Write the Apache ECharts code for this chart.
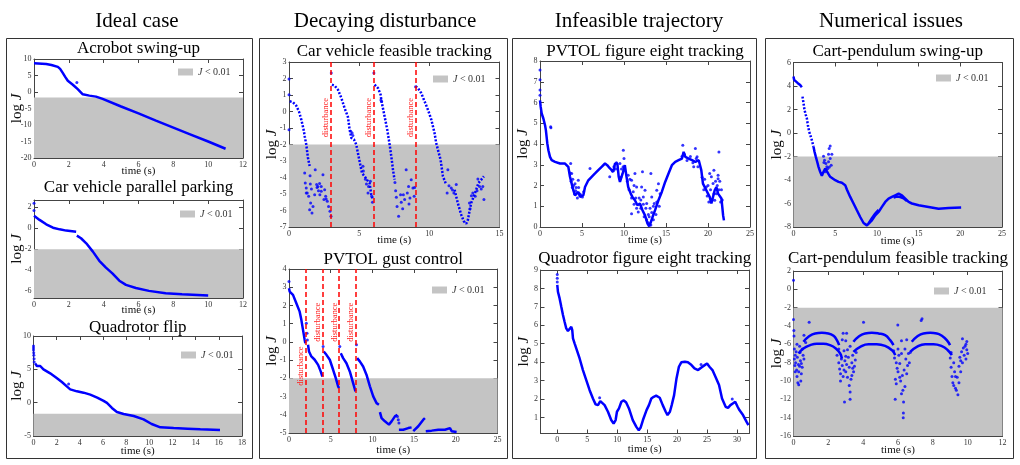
<!DOCTYPE html>
<html>
<head>
<meta charset="utf-8">
<script src="https://cdn.jsdelivr.net/npm/echarts@6/dist/echarts.min.js"></script>
<style>
  html, body { margin: 0; padding: 0; background: #fff; }
  #chart { width: 1020px; height: 465px; }
</style>
</head>
<body>
<div id="chart"></div>
<script>
// ---- data: [time (s), log J] ----
const columnTitles = ['Ideal case', 'Decaying disturbance', 'Infeasible trajectory', 'Numerical issues']

// Acrobot swing-up
const acrobotTimeTicks = [0, 2, 4, 6, 8, 10, 12]
const acrobotLogTicks = [-20, -15, -10, -5, 0, 5, 10]
const acrobotThreshold = -1.7
const acrobotCurve = [[0, 8.7], [0.7, 8.5], [1.0, 8.2], [1.37, 7.6], [1.5, 7.0], [1.66, 5.7], [1.8, 4.5], [1.94, 3.4],
  [2.23, 2.2], [2.51, 0.85], [2.8, -0.7], [3.18, -1.1], [3.56, -1.4], [3.94, -2.1], [5, -4.4], [6, -6.5],
  [7, -8.7], [8, -10.8], [9, -12.9], [10, -15.0], [11, -17.2]]
const acrobotDots = [[2.46, 2.9]]

// Car vehicle parallel parking
const parkingTimeTicks = [0, 2, 4, 6, 8, 10, 12]
const parkingLogTicks = [-6, -4, -2, 0, 2]
const parkingThreshold = -2
const parkingCurveA = [[0, 1.2], [0.32, 0.8], [0.7, 0.38], [1.09, 0.06], [1.47, -0.1], [1.85, -0.22], [2.42, -0.32]]
const parkingCurveB = [[2.46, -0.7], [2.7, -0.95], [3.0, -1.43], [3.37, -2.2], [3.75, -3.1], [4.13, -3.75], [4.5, -4.3],
  [4.9, -5.0], [5.28, -5.4], [5.85, -5.7], [6.6, -5.97], [7.56, -6.2], [8.5, -6.29], [10, -6.4]]
const parkingDots = [[0, 2.4], [0, 1.7]]

// Quadrotor flip
const flipTimeTicks = [0, 2, 4, 6, 8, 10, 12, 14, 16, 18]
const flipLogTicks = [-5, 0, 5, 10]
const flipThreshold = -1.65
const flipCurve = [[0.14, 5.9], [0.29, 5.5], [0.58, 5.5], [0.86, 5.0], [1.44, 4.4], [2.0, 3.7], [2.45, 3.1], [2.9, 2.4],
  [3.17, 2.0], [3.75, 1.7], [4.32, 1.5], [4.9, 1.2], [5.5, 0.77], [6.05, 0.27], [6.34, -0.04], [6.77, -0.79],
  [7.2, -1.4], [7.78, -1.7], [8.65, -2.0], [9.5, -2.5], [10.2, -3.2], [10.95, -3.7], [12.1, -3.8], [13.3, -3.9],
  [14.4, -4.0], [16.1, -4.1]]
const flipDots = [[0, 8.5], [0, 8.2], [0, 7.9], [0.02, 7.5], [0.03, 7.1], [0.05, 6.6], [0.06, 6.1], [3.03, 2.8]]

// Car vehicle feasible tracking
const carTimeTicks = [0, 5, 10, 15]
const carLogTicks = [-7, -6, -5, -4, -3, -2, -1, 0, 1, 2, 3]
const carThreshold = -2
const carDisturbances = [3, 6.05, 9]
const carDisturbLabelY = -0.37
const carTrack1 = [[0.05, 0.62], [0.28, 0.56], [0.52, 0.35], [0.71, 0.0], [0.88, -0.5], [1.04, -1.1], [1.12, -1.5],
  [1.23, -2.0], [1.35, -2.8], [1.47, -3.3]]
const carTrack2 = [[3.06, 1.63], [3.25, 1.57], [3.49, 1.32], [3.73, 0.82], [3.96, 0.21], [4.2, -0.33], [4.32, -1.1],
  [4.44, -1.6], [4.63, -1.7], [4.79, -2.0], [4.96, -2.72], [5.1, -3.32], [5.2, -3.73], [5.39, -3.93], [5.58, -4.17],
  [5.74, -4.33], [5.86, -5.04], [5.98, -5.34]]
const carTrack3 = [[6.1, 1.63], [6.34, 1.42], [6.53, 1.02], [6.58, 0.68], [6.81, -0.29], [7.0, -1.1], [7.17, -2.0],
  [7.29, -2.72], [7.41, -3.53], [7.52, -4.13]]
const carTrack4 = [[9.02, 1.53], [9.19, 1.42], [9.42, 1.12], [9.66, 0.62], [9.9, 0.11], [10.14, -0.49], [10.37, -1.3],
  [10.49, -1.91], [10.61, -2.31], [10.8, -2.92], [10.97, -3.93], [11.2, -4.43]]
const carTrack5 = [[11.8, -4.74], [12.03, -5.55], [12.27, -6.25], [12.46, -6.66], [12.63, -6.8], [12.75, -6.56],
  [12.86, -6.05], [12.98, -5.55], [13.17, -5.14], [13.34, -4.74], [13.5, -4.33], [13.7, -4.13], [13.89, -3.93]]
const carTrackDots = [[0, 1.97], [0, 1.02], [0, -1.1], [1.12, -3.73], [1.16, -4.33], [1.23, -4.64], [1.3, -4.94],
  [1.4, -5.14], [1.54, -5.55], [1.64, -6.15], [1.71, -5.75], [1.83, -5.04], [1.87, -3.53], [1.97, -4.43], [2.06, -4.54],
  [2.18, -4.37], [2.3, -4.54], [2.42, -3.83], [2.54, -4.74], [2.61, -5.14], [2.73, -5.44], [2.82, -5.75], [2.92, -6.05],
  [2.99, -6.35], [2.3, -4.84], [2.49, -5.34], [2.2, -5.04], [1.47, -5.95], [1.23, -4.94], [1.5, -3.9], [1.6, -4.7],
  [2.0, -4.6], [2.1, -4.8], [2.65, -5.3], [1.52, -4.4],
  [3.01, 2.33], [5.27, -3.32], [5.63, -4.94], [5.8, -4.23], [5.9, -5.14], [5.67, -4.54], [5.45, -4.1], [5.52, -4.4],
  [5.95, -5.5], [5.3, -3.6], [4.5, -1.3], [4.55, -1.45], [4.4, -1.2],
  [6.05, 2.33], [7.7, -5.75], [7.81, -6.35], [7.95, -5.04], [8.35, -3.53], [8.43, -4.94], [8.52, -4.54], [8.62, -5.24],
  [8.71, -4.13], [8.83, -4.64], [8.92, -5.14], [8.24, -5.34], [7.6, -4.8], [7.65, -5.2], [8.0, -5.5], [8.1, -5.9],
  [8.55, -5.6], [8.95, -4.6], [8.15, -5.05], [7.55, -4.3], [6.55, 0.7], [6.6, 0.6],
  [9.02, 1.5], [11.32, -3.53], [11.27, -4.94], [11.56, -4.64], [11.75, -4.94], [11.92, -4.43], [12.86, -5.55],
  [13.1, -4.94], [13.27, -5.14], [13.58, -4.54], [13.81, -4.54], [13.89, -5.34], [13.46, -4.09], [11.4, -4.5],
  [11.65, -4.75], [13.0, -5.1], [13.4, -4.8], [13.7, -4.7], [12.9, -5.9]]

// PVTOL gust control
const gustTimeTicks = [0, 5, 10, 15, 20, 25]
const gustLogTicks = [-5, -4, -3, -2, -1, 0, 1, 2, 3, 4]
const gustThreshold = -2
const gustDisturbances = [2, 4, 6, 8]
const gustDisturbLabelY = [-1.33, 1.08, 1.08, 1.08]
const gustSeg1 = [[0, 2.94], [0.08, 2.76], [0.48, 2.58], [0.88, 2.12], [1.28, 1.66], [1.48, 1.21], [1.68, 0.66], [1.88, 0.11], [1.96, -0.07]]
const gustSeg2 = [[2.28, -0.16], [2.4, -0.53], [2.68, -0.8], [3.08, -0.98], [3.49, -1.26], [3.8, -1.62], [4.0, -1.9]]
const gustSeg3 = [[4.17, -0.53], [4.49, -0.71], [4.89, -0.98], [5.29, -1.53], [5.61, -1.99], [5.89, -2.44], [6.0, -2.54]]
const gustSeg4 = [[6.21, -0.62], [6.49, -0.89], [6.89, -1.17], [7.29, -1.62], [7.69, -2.26], [7.97, -2.72]]
const gustSeg5 = [[8.17, -0.89], [8.49, -1.07], [8.89, -1.35], [9.29, -1.8], [9.7, -2.44], [10.1, -2.99], [10.5, -3.36], [10.78, -3.45]]
const gustSeg6 = [[10.9, -3.85], [11.1, -4.18], [11.5, -4.36], [11.98, -4.54], [12.3, -4.36], [12.7, -4.09], [13.0, -4.0]]
const gustSeg7 = [[13.18, -4.82], [13.7, -4.82], [14.3, -4.73], [14.7, -4.69]]
const gustSeg8 = [[14.9, -4.9], [15.5, -4.63], [16.1, -4.27], [16.3, -4.18]]
const gustSeg9 = [[16.4, -4.9], [17.1, -4.87], [17.9, -4.82], [18.7, -4.82], [19.3, -4.73], [19.5, -4.9], [20.1, -4.94]]
const gustDots = [[0, 3.31], [2.08, 1.02], [2.16, 0.48], [2.2, 0.11], [4.09, -0.25], [6.09, -0.25], [8.09, -0.16],
  [13.1, -4.27], [13.18, -4.45], [13.0, -4.1]]

// PVTOL figure eight tracking
const pvtolTimeTicks = [0, 5, 10, 15, 20, 25]
const pvtolLogTicks = [0, 1, 2, 3, 4, 5, 6, 7, 8]
const pvtolCurve = [[0, 6.1], [0.08, 5.8], [0.2, 5.47], [0.4, 5.23], [0.6, 4.9], [0.7, 4.67], [0.87, 4.03], [1.0, 3.7],
  [1.19, 3.38], [1.39, 3.22], [1.79, 3.14], [2.38, 3.06], [2.98, 3.06], [3.37, 2.9], [3.57, 2.42], [3.77, 2.09],
  [3.97, 1.77], [4.17, 1.53], [4.37, 1.53], [4.56, 1.69], [4.76, 1.45], [4.96, 1.37], [5.16, 1.53], [5.36, 1.93],
  [5.75, 2.25], [6.15, 2.42], [6.55, 2.58], [6.94, 2.74], [7.34, 2.9], [7.74, 3.06], [8.0, 2.98], [8.33, 2.82],
  [8.73, 2.66], [8.93, 3.06], [9.21, 3.06], [9.37, 2.42], [9.52, 2.17], [9.84, 2.58], [10.1, 2.98], [10.3, 2.42],
  [10.5, 1.93], [10.8, 1.61], [11.0, 1.45], [11.3, 1.29], [11.6, 1.05], [11.9, 1.13], [12.2, 0.81], [12.5, 0.56],
  [12.8, 0.16], [13.0, 0.03], [13.2, 0.24], [13.4, 0.48], [13.7, 0.81], [14.1, 1.29], [14.5, 1.69], [14.9, 2.17],
  [15.3, 2.58], [15.7, 2.98], [16.1, 3.14], [16.5, 3.22], [16.9, 3.3], [17.1, 3.62], [17.3, 3.38], [17.7, 3.3],
  [18.1, 3.22], [18.5, 3.14], [18.9, 3.22], [19.2, 2.74], [19.4, 2.09], [19.8, 1.77], [20.0, 1.61], [20.2, 1.45],
  [20.4, 1.13], [20.6, 1.45], [20.8, 1.77], [21.0, 1.93], [21.2, 1.61], [21.4, 1.53], [21.6, 1.37], [21.7, 0.97],
  [21.8, 0.56], [21.9, 0.32]]
const pvtolDots = [[0, 7.57], [0, 7.1], [0, 6.6], [0, 6.35], [1.27, 4.83], [1.3, 4.78], [3.65, 3.06], [3.77, 2.58],
  [4.17, 2.09], [4.56, 2.25], [5.95, 2.82], [9.92, 3.7], [9.52, 3.06], [10.5, 2.5], [10.9, 2.25], [11.3, 2.58],
  [11.5, 1.93], [12.1, 1.93], [12.2, 2.66], [12.3, 1.45], [12.5, 1.77], [12.7, 1.13], [13.2, 2.58], [13.3, 1.45],
  [13.6, 1.13], [13.9, 1.77], [14.1, 2.09], [10.9, 0.64], [11.7, 0.72], [17.0, 3.94], [18.5, 3.78], [18.3, 2.9],
  [18.7, 3.38], [20.2, 2.58], [20.4, 2.42], [20.7, 2.74], [21.2, 2.33], [21.3, 3.62], [21.2, 2.5], [20.8, 1.29],
  [19.8, 1.93], [8.3, 2.42], [9.9, 2.9], [11.2, 2.0], [3.9, 2.3], [4.3, 1.9], [12.0, 1.3], [12.9, 0.6], [13.1, 0.9],
  [3.6, 2.6], [3.7, 2.2], [3.85, 1.9], [4.0, 2.0], [4.1, 1.6], [4.25, 1.75], [4.45, 1.4], [4.6, 1.9], [4.7, 1.6],
  [4.85, 1.55], [5.05, 1.45], [5.2, 1.7], [9.6, 2.4], [9.7, 2.8], [10.0, 3.3], [10.4, 2.2], [10.6, 1.8], [10.7, 2.3],
  [10.9, 1.4], [11.1, 1.7], [11.2, 1.1], [11.4, 1.4], [11.5, 0.9], [11.8, 1.4], [12.0, 0.9], [12.3, 1.1], [12.4, 0.5],
  [12.6, 0.9], [12.7, 0.35], [12.9, 0.2], [13.0, 0.5], [13.2, 0.1], [13.3, 0.7], [13.5, 0.35], [13.5, 1.0], [13.8, 0.6],
  [13.9, 1.2], [14.2, 1.0], [14.3, 1.6], [19.3, 2.4], [19.5, 1.8], [19.6, 2.3], [19.9, 1.5], [20.0, 2.0], [20.1, 1.2],
  [20.3, 1.8], [20.5, 1.3], [20.6, 2.1], [20.7, 1.6], [20.9, 2.2], [21.0, 1.6], [21.1, 2.0], [21.3, 1.8], [21.4, 2.2],
  [21.5, 1.2], [21.6, 1.8], [21.7, 1.3], [16.9, 3.4], [17.2, 3.5], [17.5, 3.2], [17.9, 3.4], [18.2, 3.1], [18.6, 3.3],
  [18.8, 2.9], [8.6, 2.7], [8.8, 2.9], [9.0, 2.8], [9.1, 3.1]]

// Quadrotor figure eight tracking
const quadTimeTicks = [0, 5, 10, 15, 20, 25, 30]
const quadLogTicks = [1, 2, 3, 4, 5, 6, 7, 8, 9]
const quadCurve = [[0, 8.19], [0.11, 7.82], [0.39, 7.46], [0.67, 7.0], [0.95, 6.56], [1.22, 6.19], [1.5, 5.83],
  [1.78, 5.69], [2.06, 5.74], [2.34, 5.92], [2.5, 5.74], [2.62, 5.29], [2.89, 5.02], [3.17, 4.75], [3.73, 4.2],
  [4.28, 3.57], [4.84, 3.03], [5.4, 2.48], [5.95, 2.03], [6.4, 1.71], [6.79, 1.67], [7.18, 1.89], [7.51, 1.85],
  [7.9, 1.67], [8.46, 1.31], [9.0, 0.86], [9.4, 0.67], [9.74, 0.86], [9.96, 1.31], [10.3, 1.49], [10.7, 1.85],
  [11.1, 1.93], [11.5, 1.81], [11.96, 1.49], [12.6, 0.86], [13.2, 0.49], [13.6, 0.31], [13.9, 0.44], [14.3, 0.86],
  [14.9, 1.4], [15.3, 1.67], [15.7, 2.03], [16.1, 2.12], [16.5, 2.18], [17.1, 2.07], [17.6, 1.67], [18.1, 1.31],
  [18.4, 1.13], [18.8, 1.31], [19.1, 1.67], [19.5, 2.21], [19.9, 3.12], [20.3, 3.75], [20.7, 3.99], [21.3, 4.02],
  [21.8, 3.99], [22.4, 3.84], [22.9, 3.66], [23.5, 3.57], [24.0, 3.7], [24.6, 3.84], [25.0, 3.93], [25.4, 3.75],
  [25.9, 3.57], [26.4, 3.21], [27.0, 2.76], [27.5, 2.03], [28.1, 1.58], [28.5, 1.52], [28.9, 1.67], [29.3, 1.76],
  [29.7, 1.85], [30.1, 1.58], [30.4, 1.4], [31.0, 1.13], [31.6, 0.76], [31.9, 0.58]]
const quadDots = [[0, 8.76], [0, 8.55], [0, 8.35], [7.07, 2.07], [24.0, 3.88], [29.2, 2.0]]

// Cart-pendulum swing-up
const swingTimeTicks = [0, 5, 10, 15, 20, 25]
const swingLogTicks = [-8, -6, -4, -2, 0, 2, 4, 6]
const swingThreshold = -2
const swingStart = [[0, 4.8], [0.08, 4.52], [0.2, 4.38], [0.52, 4.24], [0.8, 4.09], [1.0, 3.9]]
const swingFall = [[1.08, 3.1], [1.2, 2.53], [1.32, 1.96], [1.48, 1.53], [1.6, 1.25], [1.72, 0.68], [1.88, 0.11],
  [2.08, -0.32], [2.2, -0.6], [2.4, -1.17]]
const swingCurve = [[2.4, -1.17], [2.52, -1.6], [2.68, -2.03], [2.84, -2.45], [3.0, -2.88], [3.2, -3.3], [3.4, -3.65],
  [3.6, -3.3], [3.8, -3.02], [4.0, -3.16], [4.2, -3.5], [4.4, -3.73], [4.6, -3.87], [5.0, -4.02], [5.4, -4.16],
  [5.8, -4.24], [6.2, -4.44], [6.4, -4.81], [6.8, -5.44], [7.2, -6.0], [7.6, -6.58], [8.0, -7.15], [8.4, -7.66],
  [8.8, -7.86], [9.0, -7.86], [9.4, -7.43], [9.8, -7.0], [10.2, -6.72], [10.6, -6.29], [11.0, -5.87], [11.4, -5.58],
  [11.8, -5.44], [12.2, -5.3], [12.6, -5.16], [13.0, -5.3], [13.4, -5.58], [13.8, -5.87], [14.2, -6.0], [15.0, -6.15],
  [16.2, -6.29], [17.4, -6.44], [18.6, -6.38], [20.1, -6.35]]
const swingBand = [[9.0, -7.7], [9.4, -7.25], [9.8, -6.85], [10.2, -6.55]]
const swingBand2 = [[12.0, -5.5], [12.4, -5.4], [12.8, -5.45], [13.2, -5.55], [13.6, -5.8]]
const swingDots = [[3.6, -1.97], [3.72, -2.31], [3.88, -2.59], [4.0, -2.88], [4.2, -1.8], [4.28, -1.31], [4.4, -1.11],
  [4.4, -2.17], [4.52, -2.74], [3.8, -3.3], [4.12, -3.02], [4.2, -2.45], [4.6, -1.8], [3.65, -2.5], [3.9, -3.1],
  [4.3, -2.9]]

// Cart-pendulum feasible tracking
const feasTimeTicks = [0, 2, 4, 6, 8, 10, 12]
const feasLogTicks = [-16, -14, -12, -10, -8, -6, -4, -2, 0, 2]
const feasThreshold = -2
const feasArcUp1 = [[0.57, -5.73], [0.86, -5.18], [1.24, -4.81], [1.63, -4.74], [2.0, -4.81], [2.3, -5.07], [2.49, -5.54], [2.62, -6.09]]
const feasArcLo1 = [[0.29, -7.0], [0.57, -6.45], [0.96, -6.09], [1.34, -5.94], [1.72, -5.94], [2.1, -6.09], [2.43, -6.45], [2.68, -7.0], [2.78, -7.55]]
const feasArcUp2 = [[3.44, -5.73], [3.73, -5.18], [4.11, -4.81], [4.5, -4.74], [4.88, -4.81], [5.26, -5.0], [5.55, -5.54], [5.74, -6.09]]
const feasArcLo2 = [[3.44, -6.82], [3.83, -6.27], [4.31, -5.98], [4.78, -5.98], [5.26, -6.16], [5.65, -6.64], [5.84, -7.18]]
const feasArcUp3 = [[6.79, -5.73], [7.08, -5.18], [7.46, -4.81], [7.85, -4.74], [8.23, -4.81], [8.52, -5.07], [8.8, -5.54], [8.99, -6.09]]
const feasArcLo3 = [[6.7, -6.82], [7.08, -6.27], [7.56, -5.98], [8.04, -5.98], [8.52, -6.2], [8.86, -6.64], [9.09, -7.18]]
const feasDots = [[0, 1.0], [0, -3.3], [0.02, -4.5], [0.03, -5.1], [0.05, -6.5], [0.1, -7.2], [0.12, -8], [0.18, -8.8],
  [0.2, -9.5], [0.25, -10.2], [0.3, -10.4], [0.3, -9], [0.35, -8.4], [0.4, -7.8], [0.45, -9.2], [0.5, -8.5],
  [0.55, -7.2], [0.15, -6.8], [0.05, -7.6], [0.22, -7.4], [0.38, -6.9], [0.45, -8.1], [0.5, -6.5], [0.6, -7.6],
  [0.28, -8.2], [0.1, -9.0], [0.9, -3.6], [0.6, -5.0], [0.35, -6.2], [0.7, -5.8], [0.2, -6.0], [0.08, -8.3], [0.42, -10.0],
  [2.5, -7.2], [2.6, -8], [2.65, -8.7], [2.7, -9.2], [2.75, -7.6], [2.8, -8.3], [2.85, -9.5], [2.9, -8.8], [2.95, -7.8],
  [3.0, -9.0], [3.05, -8.2], [3.1, -9.6], [3.15, -7.4], [3.2, -8.5], [3.3, -9.8], [3.35, -8.0], [3.4, -7.2], [3.45, -9.0],
  [3.5, -8.4], [3.55, -7.7], [3.6, -6.9], [2.9, -6.7], [3.1, -6.6], [3.0, -7.3], [2.7, -10.0], [3.35, -9.4], [2.8, -5.5],
  [3.0, -5.6], [2.93, -12.3], [3.25, -12.0], [3.2, -10.5], [3.25, -11.2], [2.85, -4.8], [3.05, -4.8], [4.02, -3.6],
  [2.6, -6.5], [3.25, -6.2], [3.4, -8.6],
  [5.8, -7.5], [5.85, -9.8], [5.9, -10.3], [5.95, -8.6], [5.84, -12.0], [6.0, -9.0], [6.05, -7.2], [6.1, -8.1],
  [6.15, -10.0], [6.2, -11.4], [6.25, -9.4], [6.31, -13.5], [6.3, -14.0], [6.32, -12.3], [6.35, -8.8], [6.4, -10.6],
  [6.45, -7.6], [6.5, -9.2], [6.55, -8.3], [6.6, -7.0], [6.65, -8.0], [6.7, -6.9], [6.2, -7.0], [6.4, -6.5], [6.0, -6.5],
  [5.75, -6.7], [5.99, -3.9], [7.33, -3.4], [7.38, -3.2], [6.2, -5.6], [6.5, -5.5], [6.28, -11.0], [5.9, -8.0], [6.1, -9.6],
  [9.0, -7.5], [9.05, -8.5], [9.1, -9.5], [9.15, -10.2], [9.2, -8.0], [9.25, -9.0], [9.3, -10.8], [9.35, -11.0],
  [9.4, -9.6], [9.44, -11.5], [9.5, -8.4], [9.55, -7.4], [9.6, -9.0], [9.65, -6.8], [9.7, -8.0], [9.75, -6.4],
  [9.8, -7.2], [9.85, -6.2], [9.9, -7.6], [9.95, -6.6], [10.0, -7.0], [9.95, -5.7], [9.9, -6.0], [9.7, -5.4],
  [9.3, -9.5], [9.2, -10.5], [9.05, -6.9], [9.5, -10.2], [9.6, -7.8]]

// ---- layout & style ----
const SERIF = 'Liberation Serif'
const BLUE = '#0000ff'
const SHADE = '#c4c4c4'
const FRAME = '#444'
const LEGEND_NAME = 'J < 0.01'

const boxes = [[6.5, 38.5, 246, 420], [259.5, 38.5, 248, 420], [512.5, 38.5, 244, 420], [765.5, 38.5, 248, 420]]
const columnTitleX = [137, 385, 639, 891]

const solid = 'solid', dotted = [2, 1.6]
const panels = [
  { title: 'Acrobot swing-up', rect: [34, 59, 209, 99], titleY: 49, x: [0, 12], y: [-20, 10],
    xt: acrobotTimeTicks, yt: acrobotLogTicks, gap: 7.5, shade: acrobotThreshold, legend: [178, 73],
    lines: [[acrobotCurve, solid]], dots: [acrobotDots] },
  { title: 'Car vehicle parallel parking', rect: [34, 200, 209, 98], titleY: 188, x: [0, 12], y: [-6.65, 2.7],
    xt: parkingTimeTicks, yt: parkingLogTicks, gap: 6.5, shade: parkingThreshold, legend: [180, 215],
    lines: [[parkingCurveA, solid], [parkingCurveB, solid]], dots: [parkingDots] },
  { title: 'Quadrotor flip', rect: [33.5, 336, 208.5, 100], titleY: 328, x: [0, 18], y: [-5, 10],
    xt: flipTimeTicks, yt: flipLogTicks, gap: 9.5, shade: flipThreshold, legend: [181, 356],
    lines: [[flipCurve, solid]], dots: [flipDots] },
  { title: 'Car vehicle feasible tracking', rect: [289, 62, 210.5, 165], titleY: 52, x: [0, 15], y: [-7, 3],
    xt: carTimeTicks, yt: carLogTicks, gap: 7.5, shade: carThreshold, legend: [433, 80],
    lines: [[carTrack1, dotted], [carTrack2, dotted], [carTrack3, dotted], [carTrack4, dotted], [carTrack5, dotted]],
    dots: [carTrackDots], disturb: carDisturbances, disturbY: carDisturbances.map(() => carDisturbLabelY), disturbOffset: -5 },
  { title: 'PVTOL gust control', rect: [289, 269, 208.5, 164], titleY: 260, x: [0, 25], y: [-5, 4],
    xt: gustTimeTicks, yt: gustLogTicks, gap: 12, shade: gustThreshold, legend: [432, 291],
    lines: [gustSeg1, gustSeg2, gustSeg3, gustSeg4, gustSeg5, gustSeg6, gustSeg7, gustSeg8, gustSeg9].map(s => [s, solid]),
    dots: [gustDots], disturb: gustDisturbances, disturbY: gustDisturbLabelY, disturbOffset: -4.5 },
  { title: 'PVTOL figure eight tracking', rect: [540, 61, 210, 166], titleY: 52, x: [0, 25], y: [0, 8],
    xt: pvtolTimeTicks, yt: pvtolLogTicks, gap: 7.5,
    lines: [[pvtolCurve, solid]], dots: [pvtolDots] },
  { title: 'Quadrotor figure eight tracking', rect: [540.5, 270, 208.5, 163.5], titleY: 259, x: [-2.8, 32], y: [0.13, 9],
    xt: quadTimeTicks, yt: quadLogTicks, gap: 10,
    lines: [[quadCurve, solid]], dots: [quadDots] },
  { title: 'Cart-pendulum swing-up', rect: [793.5, 62.5, 208.5, 164.5], titleY: 52, x: [0, 25], y: [-8, 6],
    xt: swingTimeTicks, yt: swingLogTicks, gap: 8.5, shade: swingThreshold, legend: [936, 79],
    lines: [[swingStart, solid], [swingFall, dotted], [swingCurve, solid], [swingBand, solid], [swingBand2, solid]],
    dots: [swingDots] },
  { title: 'Cart-pendulum feasible tracking', rect: [793.5, 271, 209, 165], titleY: 259, x: [0, 12], y: [-16, 2],
    xt: feasTimeTicks, yt: feasLogTicks, gap: 8.5, shade: feasThreshold, legend: [934, 292],
    lines: [feasArcUp1, feasArcLo1, feasArcUp2, feasArcLo2, feasArcUp3, feasArcLo3].map(s => [s, solid, true]),
    dots: [feasDots] }
]

const grids = [], xAxes = [], yAxes = [], series = [], legends = [], graphics = []

function axis(k, pos, range, ticks, withLabels) {
  return {
    gridIndex: k, type: 'value', position: pos, min: range[0], max: range[1],
    axisLine: { show: true, onZero: false, lineStyle: { color: FRAME, width: 1 } },
    axisTick: { show: true, inside: true, length: 4, customValues: ticks, lineStyle: { color: FRAME } },
    axisLabel: { show: withLabels, customValues: ticks, fontFamily: SERIF, fontSize: 8, color: '#333', margin: 2.5 },
    splitLine: { show: false }
  }
}

panels.forEach((p, k) => {
  const [left, top, width, height] = p.rect
  grids.push({ left, top, width, height, containLabel: false, outerBoundsMode: 'none' })

  const xb = axis(k, 'bottom', p.x, p.xt, true)
  Object.assign(xb, { name: 'time (s)', nameLocation: 'middle', nameGap: p.gap, nameMoveOverlap: false,
    nameTextStyle: { fontFamily: SERIF, fontSize: 11, color: '#111' } })
  const yl = axis(k, 'left', p.y, p.yt, true)
  Object.assign(yl, { name: 'log {i|J}', nameLocation: 'middle', nameGap: 9, nameRotate: 90, nameMoveOverlap: false,
    nameTextStyle: { fontFamily: SERIF, fontSize: 15, color: '#111',
      rich: { i: { fontFamily: SERIF, fontSize: 15, fontStyle: 'italic', color: '#111' } } } })
  xAxes.push(xb, axis(k, 'top', p.x, p.xt, false))
  yAxes.push(yl, axis(k, 'right', p.y, p.yt, false))

  const xi = 2 * k, yi = 2 * k

  if (p.shade !== undefined) {
    series.push({
      type: 'line', name: LEGEND_NAME, xAxisIndex: xi, yAxisIndex: yi, data: [], z: 1, silent: true,
      color: SHADE, itemStyle: { color: SHADE }, lineStyle: { color: SHADE },
      markArea: { silent: true, itemStyle: { color: SHADE, opacity: 1 },
        data: [[{ yAxis: p.y[0] }, { yAxis: p.shade }]] }
    })
    legends.push({
      left: p.legend[0], top: p.legend[1] - 6, padding: 0, itemWidth: 15, itemHeight: 7, itemGap: 0,
      icon: 'rect', selectedMode: false, data: [LEGEND_NAME],
      formatter: () => '{i|J} < 0.01',
      textStyle: { fontFamily: SERIF, fontSize: 10, color: '#333',
        rich: { i: { fontFamily: SERIF, fontSize: 10, fontStyle: 'italic', color: '#333' } } }
    })
  }

  p.lines.forEach(([data, type, smooth]) => {
    series.push({
      type: 'line', xAxisIndex: xi, yAxisIndex: yi, data, symbol: 'none', smooth: !!smooth, silent: true, z: 3,
      lineStyle: { color: BLUE, width: 2.5, type, cap: 'butt' }
    })
  })
  p.dots.forEach(data => {
    series.push({
      type: 'scatter', xAxisIndex: xi, yAxisIndex: yi, data, symbolSize: 3, silent: true, z: 3,
      itemStyle: { color: BLUE }
    })
  })

  if (p.disturb) {
    series.push({
      type: 'line', xAxisIndex: xi, yAxisIndex: yi, data: [], z: 4, silent: true,
      markLine: { silent: true, symbol: ['none', 'none'], label: { show: false },
        lineStyle: { color: '#ff0000', type: [5, 3], width: 1.5 },
        data: p.disturb.map(t => ({ xAxis: t })) },
      markPoint: { silent: true, symbol: 'circle', symbolSize: 0,
        label: { show: true, formatter: 'disturbance', rotate: 90, color: '#ff2020', fontFamily: SERIF, fontSize: 8.5,
          offset: [0, p.disturbOffset] },
        data: p.disturb.map((t, j) => ({ coord: [t, p.disturbY[j]] })) }
    })
  }

  graphics.push({
    type: 'text', silent: true,
    style: { text: p.title, x: left + width / 2, y: p.titleY, fill: '#000', font: '17px "Liberation Serif"',
      align: 'center', verticalAlign: 'middle', textAlign: 'center', textVerticalAlign: 'middle' }
  })
})

boxes.forEach(([x, y, w, h], i) => {
  graphics.push({ type: 'rect', silent: true, shape: { x, y, width: w, height: h },
    style: { fill: 'none', stroke: '#333', lineWidth: 1 } })
  graphics.push({ type: 'text', silent: true,
    style: { text: columnTitles[i], x: columnTitleX[i], y: 21, fill: '#000', font: '21px "Liberation Serif"',
      align: 'center', verticalAlign: 'middle', textAlign: 'center', textVerticalAlign: 'middle' } })
})

const chart = echarts.init(document.getElementById('chart'))
chart.setOption({
  animation: false,
  backgroundColor: '#fff',
  grid: grids,
  xAxis: xAxes,
  yAxis: yAxes,
  legend: legends,
  series,
  graphic: graphics
})
</script>
</body>
</html>
